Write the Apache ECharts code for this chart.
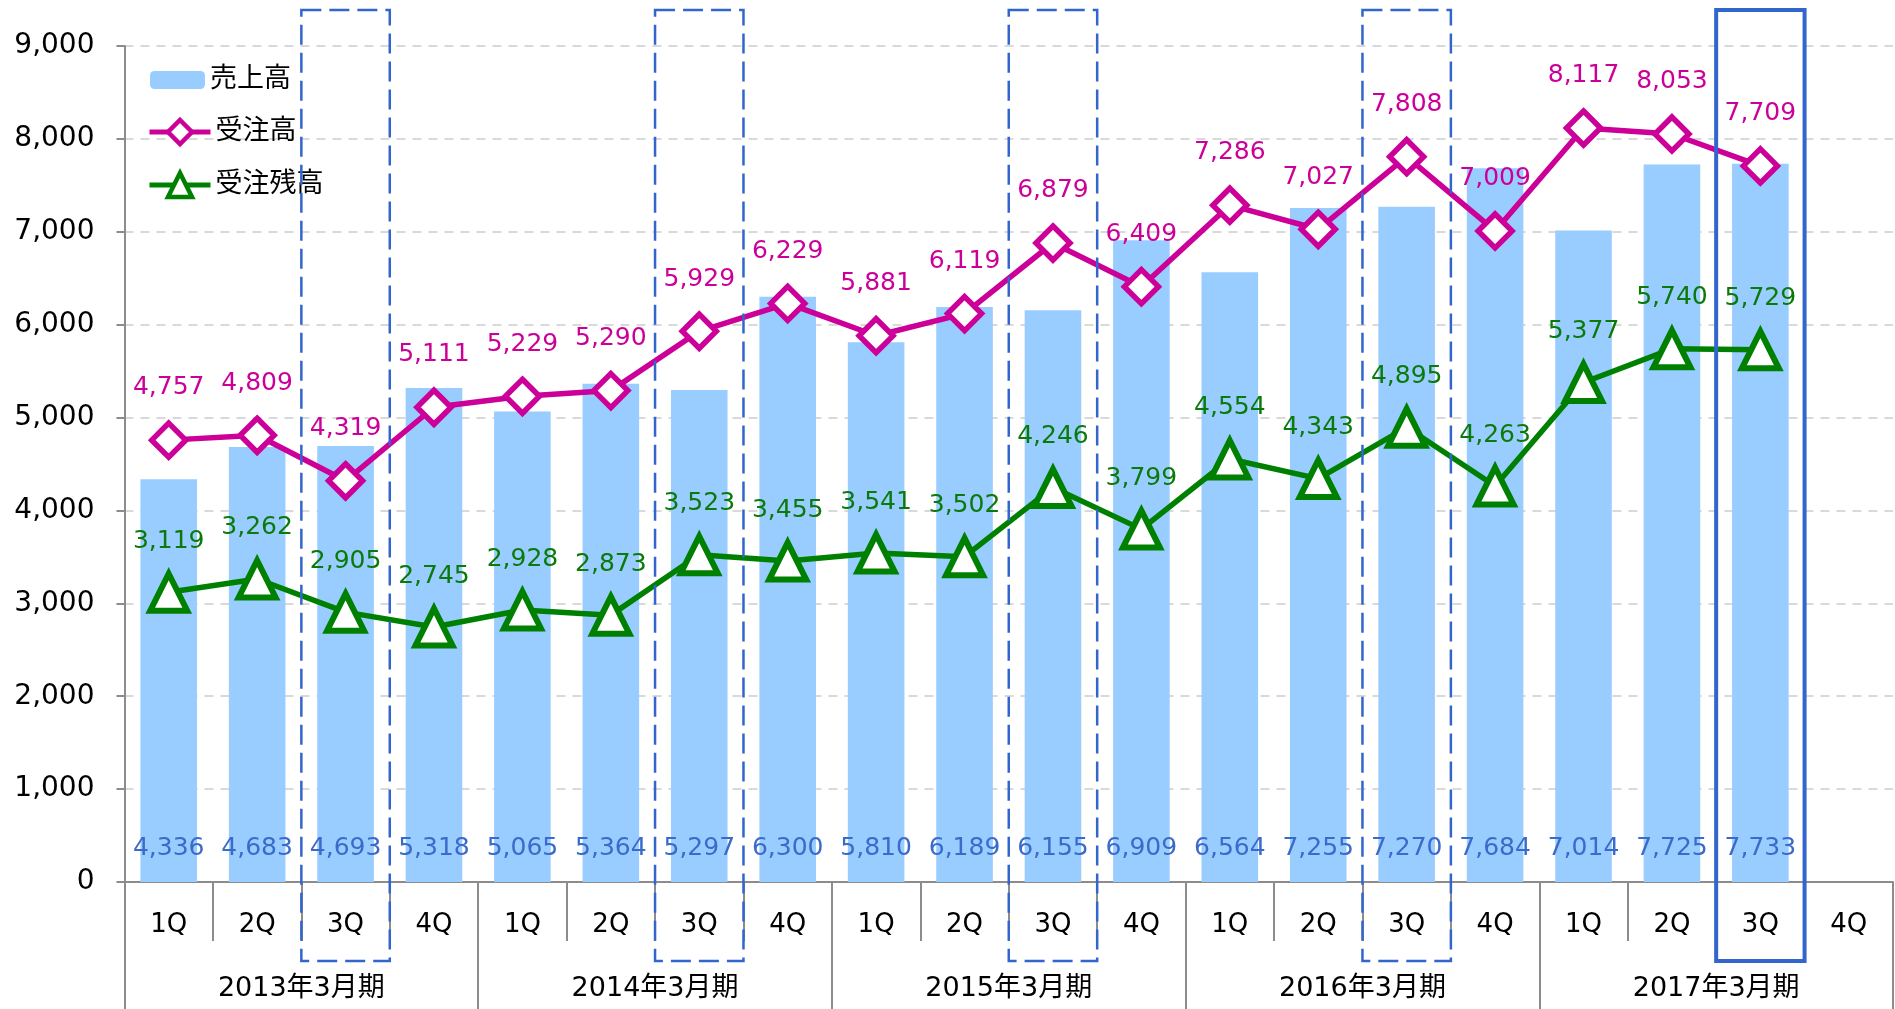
<!DOCTYPE html>
<html>
<head>
<meta charset="utf-8">
<script src="https://cdn.jsdelivr.net/npm/echarts@6/dist/echarts.min.js"></script>
<style>
html,body{margin:0;padding:0;background:#fff;}
#chart{width:1895px;height:1009px;}
</style>
</head>
<body>
<div id="chart"></div>
<script>
const quarters = ['1Q','2Q','3Q','4Q','1Q','2Q','3Q','4Q','1Q','2Q','3Q','4Q','1Q','2Q','3Q','4Q','1Q','2Q','3Q','4Q'];
const years = ['2013年3月期','2014年3月期','2015年3月期','2016年3月期','2017年3月期'];
const sales = [4336,4683,4693,5318,5065,5364,5297,6300,5810,6189,6155,6909,6564,7255,7270,7684,7014,7725,7733,null];
const orders = [4757,4809,4319,5111,5229,5290,5929,6229,5881,6119,6879,6409,7286,7027,7808,7009,8117,8053,7709,null];
const backlog = [3119,3262,2905,2745,2928,2873,3523,3455,3541,3502,4246,3799,4554,4343,4895,4263,5377,5740,5729,null];
const dashedIdx = [2,6,10,14];
const currentIdx = 18;

const FONT = "'DejaVu Sans','Noto Sans CJK JP',sans-serif";
const fmt = v => (v == null ? '' : Number(v).toLocaleString('en-US'));
const AXIS_GRAY = '#8C8C8C';
const MAGENTA = '#CC0099';
const GREEN = '#008000';

const chart = echarts.init(document.getElementById('chart'), null, {renderer:'canvas'});
const option = {
  animation:false,
  textStyle:{fontFamily:FONT},
  grid:{left:124.5, right:2, top:46, bottom:127, containLabel:false, outerBoundsMode:'none'},
  legend:[
    {data:['売上高'], left:150, top:65, orient:'vertical', itemWidth:55, itemHeight:18, padding:0,
     selectedMode:false, textStyle:{fontFamily:FONT, fontSize:27, color:'#000', lineHeight:30}},
    {data:[
       {name:'受注高', lineStyle:{width:5, color:MAGENTA}, itemStyle:{color:'#fff', borderColor:MAGENTA, borderWidth:4.5}},
       {name:'受注残高', lineStyle:{width:5, color:GREEN}, itemStyle:{color:'#fff', borderColor:GREEN, borderWidth:4.5}}
     ], left:147, top:117, orient:'vertical', itemWidth:61, itemHeight:30, itemGap:23, padding:0,
     selectedMode:false, textStyle:{fontFamily:FONT, fontSize:27, color:'#000', lineHeight:30}}
  ],
  xAxis:[
    {type:'category', data:quarters, position:'bottom', boundaryGap:true,
     axisLine:{show:true, lineStyle:{color:AXIS_GRAY, width:2}},
     axisTick:{show:true, interval:0, length:59, lineStyle:{color:AXIS_GRAY, width:2}},
     axisLabel:{interval:0, fontFamily:FONT, fontSize:26, color:'#000', margin:30},
     splitLine:{show:false}},
    {type:'category', data:years, position:'bottom', boundaryGap:true,
     axisLine:{show:false},
     axisTick:{show:true, interval:0, length:127, lineStyle:{color:AXIS_GRAY, width:2}},
     axisLabel:{show:false},
     splitLine:{show:false}}
  ],
  yAxis:{type:'value', min:0, max:9000, interval:1000,
    axisLine:{show:true, lineStyle:{color:AXIS_GRAY, width:2}},
    axisTick:{show:true, length:8, lineStyle:{color:AXIS_GRAY, width:2}},
    axisLabel:{fontFamily:FONT, fontSize:28, color:'#000', margin:30, formatter:fmt},
    splitLine:{show:true, lineStyle:{color:'#D9D9D9', width:2, type:[9,7]}}
  },
  series:[
    {name:'売上高', type:'bar', data:sales, barWidth:'64%', xAxisIndex:0,
     itemStyle:{color:'#99CCFF'}, z:1,
     label:{show:true, position:'insideBottom', distance:21, fontFamily:FONT, fontSize:25, color:'#3A6BCB', formatter:p=>fmt(p.value)}},
    {name:'受注高', type:'line', data:orders, xAxisIndex:0, z:5,
     symbol:'diamond', symbolSize:34, showAllSymbol:true,
     lineStyle:{color:MAGENTA, width:5.5},
     itemStyle:{color:'#FFFFFF', borderColor:MAGENTA, borderWidth:5.5},
     label:{show:true, position:'top', distance:20, fontFamily:FONT, fontSize:25, color:MAGENTA, formatter:p=>fmt(p.value)}},
    {name:'受注残高', type:'line', data:backlog, xAxisIndex:0, z:5,
     symbol:'triangle', symbolSize:37, showAllSymbol:true,
     lineStyle:{color:GREEN, width:5.5},
     itemStyle:{color:'#FFFFFF', borderColor:GREEN, borderWidth:6},
     label:{show:true, position:'top', distance:17, fontFamily:FONT, fontSize:25, color:'#0A7A0A', formatter:p=>fmt(p.value)}}
  ]
};
chart.setOption(option);

function addOverlays(){
  const cx = i => chart.convertToPixel({xAxisIndex:0}, i);
  const half = (cx(1) - cx(0)) / 2;
  const yZero = chart.convertToPixel({yAxisIndex:0}, 0);
  const yTop = chart.convertToPixel({yAxisIndex:0}, 9000) - 36;
  const yBot = yZero + 79;
  const els = [];
  dashedIdx.forEach(i => {
    els.push({type:'rect', z:100, silent:true,
      shape:{x:cx(i)-half, y:yTop, width:2*half, height:yBot-yTop},
      style:{fill:'none', stroke:'#3366CC', lineWidth:2.5, lineDash:[20,8]}});
  });
  els.push({type:'rect', z:100, silent:true,
    shape:{x:cx(currentIdx)-half, y:yTop, width:2*half, height:yBot-yTop},
    style:{fill:'none', stroke:'#3366CC', lineWidth:4}});
  // year (fiscal period) labels centred under each group, positioned via the year axis scale
  years.forEach((name, i) => {
    els.push({type:'text', z:50, silent:true,
      style:{text:name, x:chart.convertToPixel({xAxisIndex:1}, i), y:yZero + 107,
             align:'center', verticalAlign:'middle', fontSize:27, fontFamily:FONT, fill:'#000'}});
  });
  chart.setOption({graphic:els});
}
addOverlays();
</script>
</body>
</html>
